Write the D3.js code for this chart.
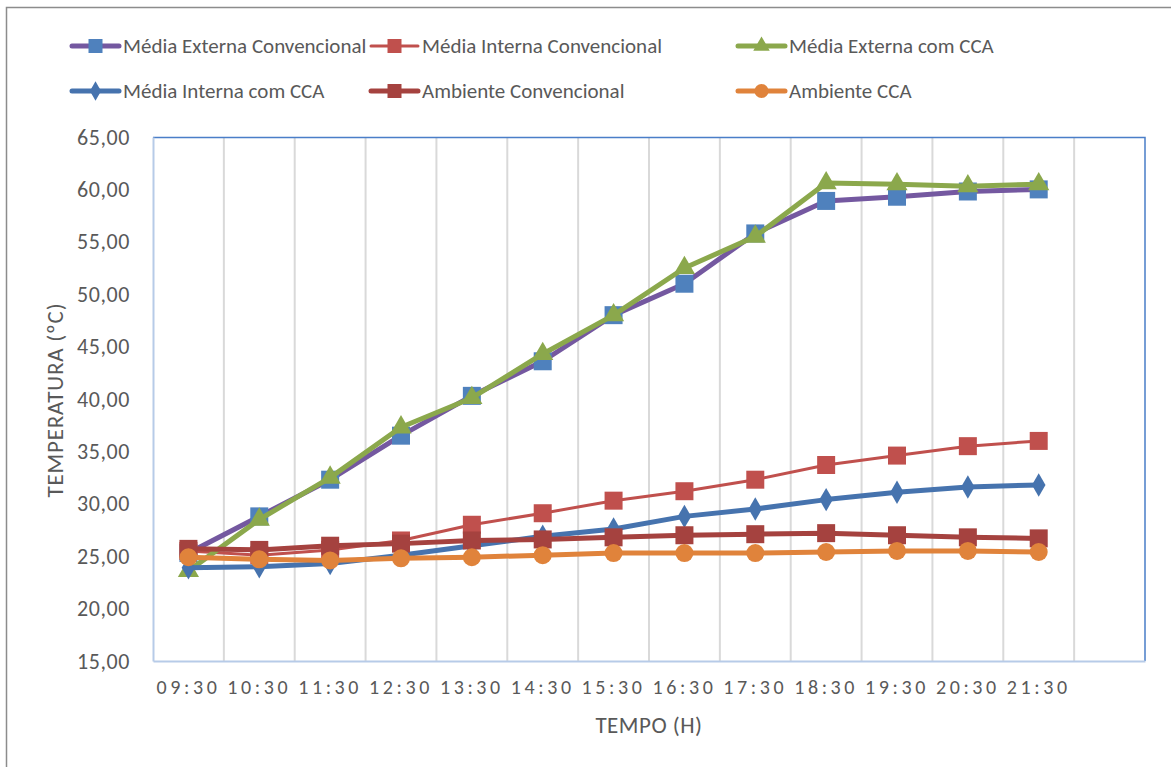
<!DOCTYPE html>
<html>
<head>
<meta charset="utf-8">
<script src="https://cdn.jsdelivr.net/npm/d3@7"></script>
<style>
  body { margin: 0; background: #fff; }
  text { font-family: Carlito, Lato, "Open Sans", sans-serif; fill: #595959; }
</style>
</head>
<body>
<div id="chart"></div>
<script>
// horarios (eixo X) - a ultima faixa fica vazia, como no original
var horas = ["09:30","10:30","11:30","12:30","13:30","14:30","15:30","16:30","17:30","18:30","19:30","20:30","21:30",""];

var mediaExternaConv = [25.3, 28.8, 32.3, 36.5, 40.3, 43.6, 48.0, 51.0, 55.8, 58.9, 59.3, 59.8, 60.0];
var mediaInternaConv = [25.5, 25.1, 25.6, 26.5, 28.0, 29.1, 30.3, 31.2, 32.3, 33.7, 34.6, 35.5, 36.0];
var mediaExternaCCA  = [23.6, 28.5, 32.5, 37.3, 40.1, 44.3, 48.0, 52.5, 55.5, 60.6, 60.5, 60.3, 60.5];
var mediaInternaCCA  = [23.9, 24.0, 24.3, 25.1, 26.0, 26.9, 27.6, 28.8, 29.5, 30.4, 31.1, 31.6, 31.8];
var ambienteConv     = [25.7, 25.6, 26.0, 26.2, 26.5, 26.6, 26.8, 27.0, 27.1, 27.2, 27.0, 26.8, 26.7];
var ambienteCCA      = [24.9, 24.7, 24.6, 24.8, 24.9, 25.1, 25.3, 25.3, 25.3, 25.4, 25.5, 25.5, 25.4];

var yTicks = [15, 20, 25, 30, 35, 40, 45, 50, 55, 60, 65];

// estilos de cada serie (ordem do Excel)
var series = [
  {name: "Média Externa Convencional", values: mediaExternaConv, line: "#7458A0", marker: "#4F81BD", shape: "square", width: 5},
  {name: "Média Interna Convencional", values: mediaInternaConv, line: "#C0504D", marker: "#C0504D", shape: "square", width: 3},
  {name: "Média Externa com CCA",      values: mediaExternaCCA,  line: "#8BA84C", marker: "#8BA84C", shape: "triangle", width: 5},
  {name: "Média Interna com CCA",      values: mediaInternaCCA,  line: "#4673AE", marker: "#4673AE", shape: "diamond", width: 5},
  {name: "Ambiente Convencional",      values: ambienteConv,     line: "#A5423F", marker: "#A5423F", shape: "square", width: 5},
  {name: "Ambiente CCA",               values: ambienteCCA,      line: "#E0833B", marker: "#E0833B", shape: "circle", width: 5}
];

var width = 1171, height = 767;
var margin = {top: 137, right: 26, bottom: 106, left: 153};
var innerW = width - margin.left - margin.right;
var innerH = height - margin.top - margin.bottom;

var svg = d3.select("#chart").append("svg")
    .attr("width", width)
    .attr("height", height);

// moldura do grafico
svg.append("rect")
    .attr("x", 6.5).attr("y", 7.5)
    .attr("width", width + 20).attr("height", height + 20)
    .attr("fill", "none")
    .attr("stroke", "#8c8c8c")
    .attr("stroke-width", 1.5);

var g = svg.append("g")
    .attr("transform", "translate(" + margin.left + "," + margin.top + ")");

var x = d3.scaleBand()
    .domain(horas)
    .range([0, innerW]);

var y = d3.scaleLinear()
    .domain([15, 65])
    .range([innerH, 0]);

// grades verticais nos limites das faixas
g.append("g")
  .selectAll("line")
  .data(horas.slice(1))
  .enter().append("line")
    .attr("x1", function(d){ return x(d); })
    .attr("x2", function(d){ return x(d); })
    .attr("y1", 0).attr("y2", innerH)
    .attr("stroke", "#D9D9D9")
    .attr("stroke-width", 2);

// borda da area de plotagem (topo e direita)
g.append("path")
    .attr("d", "M0,0.5H" + innerW + "V" + innerH)
    .attr("fill", "none")
    .attr("stroke", "#4A7EC8")
    .attr("stroke-width", 1.5);

// eixo Y
var yAxis = g.append("g")
    .call(d3.axisLeft(y).tickValues(yTicks).tickSize(0).tickPadding(23)
      .tickFormat(function(d){ return d3.format(".2f")(d).replace(".", ","); }));
yAxis.select(".domain").attr("stroke", "#B7CBE8").attr("stroke-width", 2);
yAxis.selectAll("text")
    .style("font-size", "22px")
    .style("letter-spacing", "0.6px")
    .attr("fill", "#595959");

// eixo X
var xAxis = g.append("g")
    .attr("transform", "translate(0," + innerH + ")")
    .call(d3.axisBottom(x).tickSize(0).tickPadding(19));
xAxis.select(".domain").attr("stroke", "#B7CBE8").attr("stroke-width", 2);
xAxis.selectAll("text")
    .style("font-size", "20px")
    .style("letter-spacing", "3.6px")
    .attr("fill", "#595959");

// titulos dos eixos
svg.append("text")
    .attr("x", 649).attr("y", 733)
    .attr("text-anchor", "middle")
    .style("font-size", "23px")
    .style("letter-spacing", "0.5px")
    .text("TEMPO (H)");

svg.append("text")
    .attr("transform", "translate(63,400) rotate(-90)")
    .attr("text-anchor", "middle")
    .style("font-size", "23px")
    .style("letter-spacing", "0.8px")
    .text("TEMPERATURA (ºC)");

function drawMarker(sel, s, size) {
  if (s.shape === "circle") {
    sel.append("circle").attr("r", size / 2).attr("fill", s.marker);
  } else {
    var sym = s.shape === "square" ? d3.symbolSquare : s.shape === "triangle" ? d3.symbolTriangle : d3.symbolDiamond;
    var area = s.shape === "square" ? size * size : s.shape === "triangle" ? size * size * 0.6 : size * size * 0.55;
    sel.append("path").attr("d", d3.symbol().type(sym).size(area)).attr("fill", s.marker);
  }
}

var line = d3.line()
    .x(function(d, i){ return x(horas[i]) + x.bandwidth() / 2; })
    .y(function(d){ return y(d); });

series.forEach(function(s){
  var sg = g.append("g");
  sg.append("path")
      .datum(s.values)
      .attr("d", line)
      .attr("fill", "none")
      .attr("stroke", s.line)
      .attr("stroke-width", s.width)
      .attr("stroke-linejoin", "round");
  s.values.forEach(function(v, i){
    var m = sg.append("g")
        .attr("transform", "translate(" + (x(horas[i]) + x.bandwidth() / 2) + "," + y(v) + ")");
    drawMarker(m, s, s.shape === "diamond" ? 17 : 18);
  });
});

// legenda
var legX = [72, 371, 738];
var legY = [46, 91];
series.forEach(function(s, i){
  var lg = svg.append("g")
      .attr("transform", "translate(" + legX[i % 3] + "," + legY[Math.floor(i / 3)] + ")");
  lg.append("line")
      .attr("x1", 0).attr("x2", 47)
      .attr("stroke", s.line)
      .attr("stroke-width", s.width)
      .attr("stroke-linecap", "round");
  var m = lg.append("g").attr("transform", "translate(23.5,0)");
  drawMarker(m, s, 14);
  lg.append("text")
      .attr("x", 51).attr("dy", "0.35em")
      .style("font-size", "21px")
      .text(s.name);
});
</script>
</body>
</html>
